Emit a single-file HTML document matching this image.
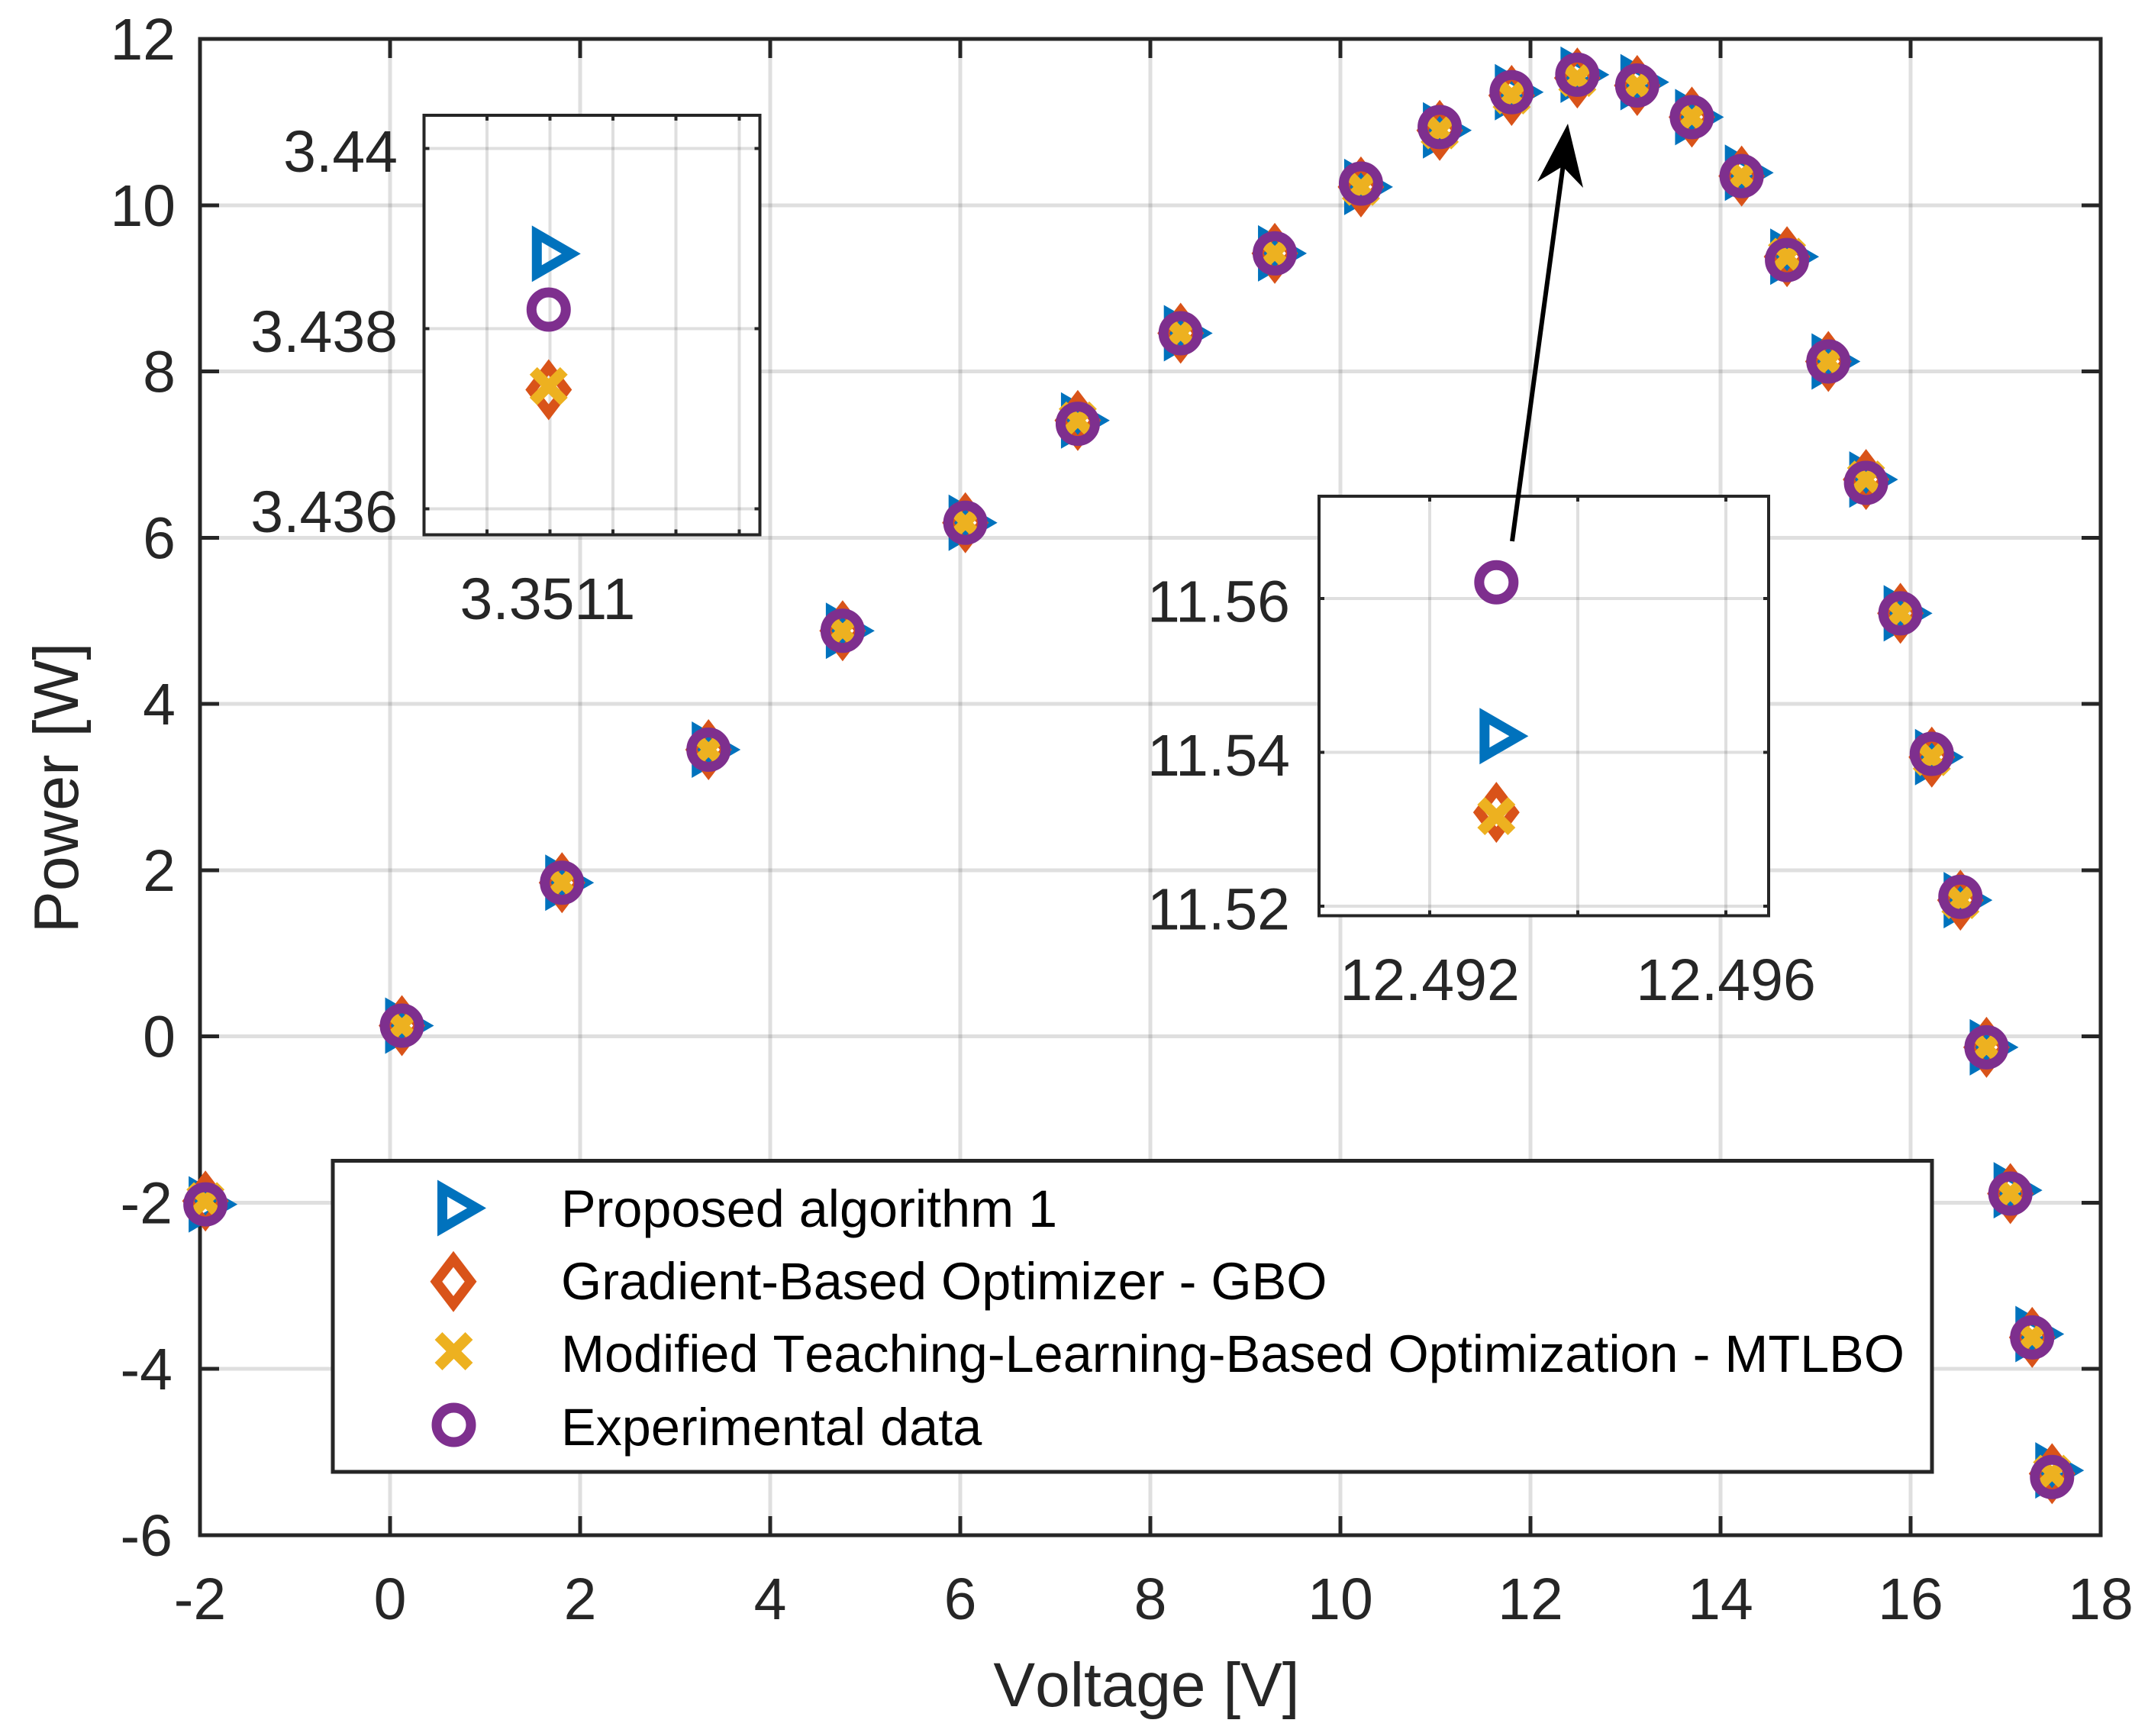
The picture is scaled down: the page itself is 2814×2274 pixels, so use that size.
<!DOCTYPE html>
<html lang="en">
<head>
<meta charset="utf-8">
<title>Power vs Voltage</title>
<style>
html,body{margin:0;padding:0;background:#fff;}
svg{display:block;font-family:"Liberation Sans",Arial,sans-serif;font-kerning:none;}
.tick-text{font-kerning:normal;}
</style>
</head>
<body>
<svg id="chart" xmlns="http://www.w3.org/2000/svg" width="2814" height="2274" viewBox="0 0 2814 2274">
  <rect x="0" y="0" width="2814" height="2274" fill="#ffffff"/>
  <g id="main-layer"></g>
  <text x="1502" y="2235" font-size="82" fill="#262626" text-anchor="middle">Voltage [V]</text>
  <text transform="translate(102,1032) rotate(-90)" font-size="82.5" fill="#262626" text-anchor="middle">Power [W]</text>
  <g>
    <rect x="436" y="1520.5" width="2095" height="407.5" fill="#ffffff" stroke="#262626" stroke-width="5"/>
    <g id="legend-icons"></g>
    <text x="735" y="1607" font-size="68.4" fill="#000">Proposed algorithm 1</text>
    <text x="735" y="1702" font-size="68.4" fill="#000">Gradient-Based Optimizer - GBO</text>
    <text x="735" y="1797" font-size="68.4" fill="#000">Modified Teaching-Learning-Based Optimization - MTLBO</text>
    <text x="735" y="1893" font-size="68.4" fill="#000">Experimental data</text>
  </g>
  <g id="inset-left-layer"></g>
  <g id="inset-right-layer"></g>
  <g>
    <line x1="1981" y1="709" x2="2048" y2="215" stroke="#000" stroke-width="6"/>
    <polygon points="2054,162 2014,238 2047,218 2074,246" fill="#000"/>
  </g>
</svg>
<script>
// ---- chart data ----
const voltage = [-1.9426,0.1248,1.8093,3.3511,4.7622,6.0538,7.2364,8.3189,9.3097,10.2163,11.0449,11.8018,12.4929,13.1231,13.6983,14.2221,14.6995,15.1346,15.5311,15.8929,16.2229,16.5241,16.7987,17.0499,17.2793,17.4885];
const experimentalPower = [-2.02,0.13,1.85,3.45,4.88,6.18,7.37,8.46,9.42,10.26,10.94,11.36,11.57,11.44,11.06,10.35,9.34,8.12,6.66,5.09,3.40,1.68,-0.13,-1.89,-3.62,-5.30];
const proposedPower = [-2.02,0.13,1.85,3.45,4.88,6.18,7.41,8.46,9.42,10.22,10.90,11.36,11.57,11.48,11.06,10.39,9.38,8.12,6.70,5.09,3.36,1.64,-0.13,-1.85,-3.58,-5.22];
const gboPower = [-1.98,0.13,1.85,3.45,4.88,6.18,7.41,8.46,9.42,10.22,10.90,11.32,11.53,11.44,11.06,10.35,9.38,8.12,6.70,5.09,3.36,1.64,-0.13,-1.89,-3.62,-5.26];
const mtlboPower = [-1.98,0.13,1.85,3.45,4.88,6.18,7.41,8.46,9.42,10.22,10.90,11.32,11.53,11.44,11.06,10.35,9.38,8.12,6.70,5.09,3.36,1.64,-0.13,-1.89,-3.62,-5.26];
const mainXTicks = [-2,0,2,4,6,8,10,12,14,16,18];
const mainXLabels = ['-2','0','2','4','6','8','10','12','14','16','18'];
const mainYTicks = [-6,-4,-2,0,2,4,6,8,10,12];
const mainYLabels = ['-6','-4','-2','0','2','4','6','8','10','12'];

const insetLeftVoltage = [3.351098];
const insetLeftExperimental = [3.43821];
const insetLeftProposed = [3.43883];
const insetLeftGbo = [3.43732];
const insetLeftMtlbo = [3.43736];
const insetLeftXTicks = [3.3510,3.3511,3.3512,3.3513,3.3514];
const insetLeftXLabels = ['','3.3511','','',''];
const insetLeftYTicks = [3.436,3.438,3.44];
const insetLeftYLabels = ['3.436','3.438','3.44'];

const insetRightVoltage = [12.4929];
const insetRightExperimental = [11.5621];
const insetRightProposed = [11.5421];
const insetRightGbo = [11.5322];
const insetRightMtlbo = [11.5317];
const insetRightXTicks = [12.492,12.494,12.496];
const insetRightXLabels = ['12.492','','12.496'];
const insetRightYTicks = [11.52,11.54,11.56];
const insetRightYLabels = ['11.52','11.54','11.56'];

// ---- drawing ----
const NS = 'http://www.w3.org/2000/svg';
const AXIS = '#262626', BLUE = '#0072BD', ORANGE = '#D95319', YELLOW = '#EDB120', PURPLE = '#7E2F8E';

function node(tag, parent, attrs) {
  const el = document.createElementNS(NS, tag);
  for (const k in attrs) el.setAttribute(k, attrs[k]);
  parent.appendChild(el);
  return el;
}
function triangleMark(parent, x, y) {
  const d = 'M' + (x - 22) + ' ' + (y - 37) + 'L' + (x + 42) + ' ' + y + 'L' + (x - 22) + ' ' + (y + 37) + 'Z' +
            'M' + (x - 9) + ' ' + (y - 15) + 'L' + (x - 9) + ' ' + (y + 15) + 'L' + (x + 17) + ' ' + y + 'Z';
  const el = node('path', parent, {d: d, fill: BLUE, 'fill-rule': 'evenodd'});
  
  
}
function diamondMark(parent, x, y) {
  const d = 'M' + x + ' ' + (y - 40) + 'L' + (x + 30.5) + ' ' + y + 'L' + x + ' ' + (y + 40) + 'L' + (x - 30.5) + ' ' + y + 'Z' +
            'M' + x + ' ' + (y - 19) + 'L' + (x - 14.7) + ' ' + y + 'L' + x + ' ' + (y + 19) + 'L' + (x + 14.7) + ' ' + y + 'Z';
  const el = node('path', parent, {d: d, fill: ORANGE, 'fill-rule': 'evenodd'});
  
  
}
function crossMark(parent, x, y) {
  const d = 'M' + (x - 20) + ' ' + (y - 20) + 'L' + (x + 20) + ' ' + (y + 20) + 'M' + (x - 20) + ' ' + (y + 20) + 'L' + (x + 20) + ' ' + (y - 20);
  const el = node('path', parent, {d: d, stroke: YELLOW, 'stroke-width': 14, fill: 'none'});
  
  
}
function circleMark(parent, x, y) {
  const el = node('circle', parent, {cx: x, cy: y, r: 22.5, fill: 'none', stroke: PURPLE, 'stroke-width': 13});
  
  
}

function drawAxes(parent, spec) {
  const L = spec.left, R = spec.right, T = spec.top, B = spec.bottom;
  const sx = v => L + (v - spec.xDomain[0]) / (spec.xDomain[1] - spec.xDomain[0]) * (R - L);
  const sy = v => B - (v - spec.yDomain[0]) / (spec.yDomain[1] - spec.yDomain[0]) * (B - T);

  const bg = node('rect', parent, {x: L, y: T, width: R - L, height: B - T, fill: '#fff'});
  
  

  spec.xTicks.forEach((t, i) => {
    const px = sx(t);
    const g = node('line', parent, {x1: px, x2: px, y1: T, y2: B, stroke: AXIS, 'stroke-opacity': 0.15, 'stroke-width': spec.gridWidth, 'shape-rendering': 'crispEdges'});
    
    
  });
  spec.yTicks.forEach((t, i) => {
    const py = sy(t);
    const g = node('line', parent, {x1: L, x2: R, y1: py, y2: py, stroke: AXIS, 'stroke-opacity': 0.15, 'stroke-width': spec.gridWidth, 'shape-rendering': 'crispEdges'});
    
    
  });
  spec.xTicks.forEach((t, i) => {
    const px = sx(t);
    [[T, T + spec.tick], [B, B - spec.tick]].forEach(p => {
      const m = node('line', parent, {x1: px, x2: px, y1: p[0], y2: p[1], stroke: AXIS, 'stroke-width': spec.lineWidth, 'shape-rendering': 'crispEdges'});
      
      
    });
    if (spec.xLabels[i]) {
      const lab = node('text', parent, {x: px + (spec.xLabelShift || 0), y: spec.xLabelY, 'font-size': 77, fill: AXIS, 'text-anchor': 'middle', 'class': 'tick-text'});
      lab.textContent = spec.xLabels[i];
      
      
    }
  });
  spec.yTicks.forEach((t, i) => {
    const py = sy(t);
    [[L, L + spec.tick], [R, R - spec.tick]].forEach(p => {
      const m = node('line', parent, {x1: p[0], x2: p[1], y1: py, y2: py, stroke: AXIS, 'stroke-width': spec.lineWidth, 'shape-rendering': 'crispEdges'});
      
      
    });
    const isNegative = spec.yLabels[i].charAt(0) === '-';
    const lab = node('text', parent, {x: spec.yLabelX + (isNegative ? 0 : (spec.positiveShift || 0)), y: py + spec.yLabelDy, 'font-size': 77, fill: AXIS, 'text-anchor': 'end', 'class': 'tick-text'});
    lab.textContent = spec.yLabels[i];
    
    
  });
  const box = node('rect', parent, {x: L, y: T, width: R - L, height: B - T, fill: 'none', stroke: AXIS, 'stroke-width': spec.lineWidth, 'shape-rendering': 'crispEdges'});
  
  

  spec.v.forEach((v, i) => { triangleMark(parent, sx(v), sy(spec.proposed[i])); });
  spec.v.forEach((v, i) => { diamondMark(parent, sx(v), sy(spec.gbo[i])); });
  spec.v.forEach((v, i) => { crossMark(parent, sx(v), sy(spec.mtlbo[i])); });
  spec.v.forEach((v, i) => { circleMark(parent, sx(v), sy(spec.experimental[i])); });
}

drawAxes(document.getElementById('main-layer'), {
  left: 262, right: 2752, top: 51, bottom: 2011,
  xDomain: [-2, 18], yDomain: [-6, 12],
  xTicks: mainXTicks, xLabels: mainXLabels, yTicks: mainYTicks, yLabels: mainYLabels,
  xLabelY: 2121, yLabelX: 226, positiveShift: 4, yLabelDy: 27, tick: 25, lineWidth: 5, gridWidth: 5,
  v: voltage, proposed: proposedPower, gbo: gboPower, mtlbo: mtlboPower, experimental: experimentalPower
});

const legendIcons = document.getElementById('legend-icons');
triangleMark(legendIcons, 595, 1582.5);
diamondMark(legendIcons, 594, 1678.7);
crossMark(legendIcons, 594.5, 1770);
circleMark(legendIcons, 594.5, 1866.5);

drawAxes(document.getElementById('inset-left-layer'), {
  left: 555.5, right: 995.6, top: 151, bottom: 700.5,
  xDomain: [3.3509004, 3.351433], yDomain: [3.435710, 3.440367],
  xTicks: insetLeftXTicks, xLabels: insetLeftXLabels, yTicks: insetLeftYTicks, yLabels: insetLeftYLabels,
  xLabelY: 811, xLabelShift: -3, yLabelX: 521, yLabelDy: 30.5, tick: 7, lineWidth: 4, gridWidth: 4,
  v: insetLeftVoltage, proposed: insetLeftProposed, gbo: insetLeftGbo, mtlbo: insetLeftMtlbo, experimental: insetLeftExperimental
});

drawAxes(document.getElementById('inset-right-layer'), {
  left: 1728, right: 2317, top: 650, bottom: 1199.5,
  xDomain: [12.490505, 12.496577], yDomain: [11.51876, 11.57329],
  xTicks: insetRightXTicks, xLabels: insetRightXLabels, yTicks: insetRightYTicks, yLabels: insetRightYLabels,
  xLabelY: 1310, xLabelShift: 0, yLabelX: 1690, yLabelDy: 30.5, tick: 7, lineWidth: 4, gridWidth: 4,
  v: insetRightVoltage, proposed: insetRightProposed, gbo: insetRightGbo, mtlbo: insetRightMtlbo, experimental: insetRightExperimental
});
</script>
</body>
</html>
